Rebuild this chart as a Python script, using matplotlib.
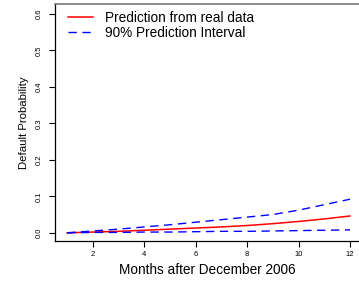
import numpy as np
import matplotlib
matplotlib.use("Agg")
import matplotlib.pyplot as plt

# monthly forecasts
months = [1, 2, 3, 4, 5, 6, 7, 8, 9, 10, 11, 12]
pred = [0.0, 0.002, 0.004, 0.007, 0.010, 0.013, 0.016, 0.020, 0.025, 0.031, 0.038, 0.046]
upper = [0.0, 0.005, 0.010, 0.016, 0.022, 0.029, 0.036, 0.043, 0.050, 0.062, 0.077, 0.092]
lower = [0.0, 0.001, 0.001, 0.002, 0.002, 0.003, 0.004, 0.004, 0.005, 0.006, 0.007, 0.008]

xticks = [2, 4, 6, 8, 10, 12]
yticks = [0.0, 0.1, 0.2, 0.3, 0.4, 0.5, 0.6]

plt.rcParams["font.family"] = ["Liberation Sans", "DejaVu Sans"]

fig = plt.figure(figsize=(3.59, 2.83), dpi=100)
ax = fig.add_axes([55/359, 1 - 241/283, 1 - 55/359, 237/283])

ax.plot(months, pred, color="red", lw=1.1, label="Prediction from real data")
ax.plot(months, upper, color="blue", lw=1.0, ls=(0, (6, 4)), label="90% Prediction Interval")
ax.plot(months, lower, color="blue", lw=1.0, ls=(0, (6, 4)))

ax.set_xlim(0.53, 12.35)
ax.set_ylim(-0.0225, 0.627)
ax.set_xticks(xticks)
ax.set_xticklabels([str(v) for v in xticks], fontsize=5.5)
ax.set_yticks(yticks)
ax.set_yticklabels([f"{v:.1f}" for v in yticks], fontsize=5.5, rotation=90, va="center")
ax.tick_params(direction="out", length=4, width=0.8, pad=5)
ax.tick_params(axis="x", pad=3)

ax.spines["right"].set_visible(False)
ax.spines["top"].set_color("#777777")
ax.spines["top"].set_linewidth(1.2)
for s in ("left", "bottom"):
    ax.spines[s].set_linewidth(0.9)

ax.set_xlabel("Months after December 2006", fontsize=9.8, labelpad=4)
ax.set_ylabel("Default Probability", fontsize=8.2, labelpad=5)

leg = ax.legend(loc="upper left", bbox_to_anchor=(13/304, 1 - 7/237), fontsize=9.8,
                frameon=False, handlelength=1.8, borderaxespad=0, borderpad=0,
                labelspacing=0.05, handletextpad=0.95)

fig.savefig("out.png", dpi=100)
